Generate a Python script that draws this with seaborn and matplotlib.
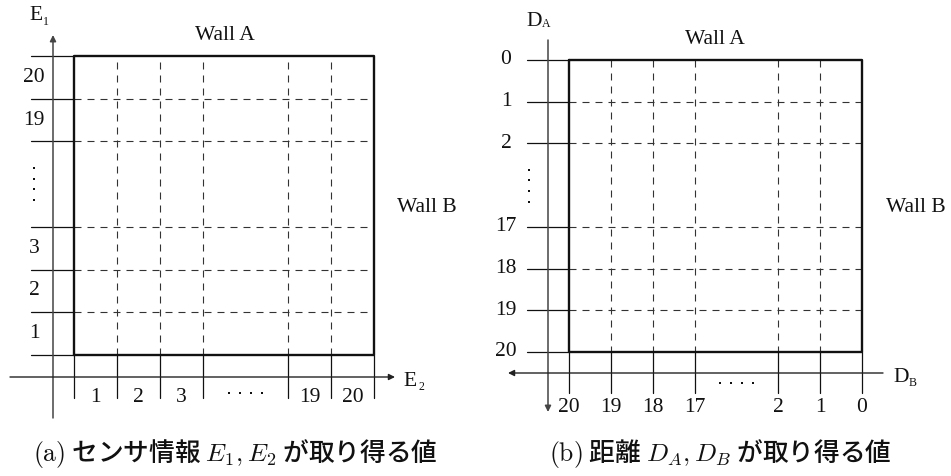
import matplotlib
matplotlib.use("Agg")
import matplotlib.pyplot as plt
import numpy as np
import seaborn as sns

# ---- values shown on the two diagrams ----
E1_VALUES = ["1", "2", "3", "19", "20"]          # sensor E1, bottom to top
E2_VALUES = ["1", "2", "3", "19", "20"]          # sensor E2, left to right
DA_VALUES = ["0", "1", "2", "17", "18", "19", "20"]   # distance to wall A, top to bottom
DB_VALUES = ["20", "19", "18", "17", "2", "1", "0"]   # distance to wall B, left to right

# cell boundaries (in cell units); the gap between 3 and 5 stands for the elided cells
BOUNDS = [0, 1, 2, 3, 5, 6, 7]
N_CELLS = 7

sns.set_theme(style="white")
plt.rcParams["font.family"] = ["Liberation Serif", "DejaVu Serif"]
plt.rcParams["mathtext.fontset"] = "cm"

fig = plt.figure(figsize=(9.51, 4.76), dpi=100)
ax = fig.add_axes([0, 0, 1, 1])
ax.set_xlim(0, 951)
ax.set_ylim(476, 0)
ax.axis("off")

INK = "#111111"
GRID = "#333333"
LBL = 15.5
SUB = 8.5
DASH = (0, (6.3, 5.4))
CAPTION_FONT = ["Noto Sans CJK JP", "DejaVu Sans"]


def arrow(x0, y0, x1, y1, color="#222222", lw=1.0):
    ax.annotate("", xy=(x1, y1), xytext=(x0, y0),
                arrowprops=dict(arrowstyle="-|>", lw=lw, color=color,
                                mutation_scale=9, shrinkA=0, shrinkB=0))


def dots(xs, ys):
    ax.scatter(xs, ys, s=4, color=INK, marker="s", linewidths=0, zorder=3)


def sublabel(x, y, main, sub, dx, dy):
    ax.text(x, y, main, fontsize=LBL, ha="center", va="center", color=INK)
    ax.text(x + dx, y + dy, sub, fontsize=SUB, ha="center", va="center", color=INK)


def grid_box(X, Y, col_bounds, row_bounds):
    """Outer wall rectangle and dashed cell grid for one panel."""
    bx = [X(0), X(N_CELLS), X(N_CELLS), X(0), X(0)]
    by = [Y(0), Y(0), Y(N_CELLS), Y(N_CELLS), Y(0)]
    sns.lineplot(x=bx, y=by, sort=False, estimator=None, ax=ax,
                 color=INK, lw=1.7, zorder=4)
    for b in col_bounds[1:-1]:
        ax.plot([X(b), X(b)], [Y(0), Y(N_CELLS)], color=GRID, lw=0.8, ls=DASH)
    for b in row_bounds[1:-1]:
        ax.plot([X(0), X(N_CELLS)], [Y(b), Y(b)], color=GRID, lw=0.8, ls=DASH)


# ================= (a) sensor values E1, E2 =================
LX0, LY_BOT = 74.0, 355.0
LCW, LCH = 300.0 / N_CELLS, 299.0 / N_CELLS
lx = lambda u: LX0 + u * LCW          # E2 direction
ly = lambda v: LY_BOT - v * LCH       # E1 direction (upwards)

grid_box(lx, ly, BOUNDS, BOUNDS)
for b in BOUNDS:
    ax.plot([31, lx(0)], [ly(b), ly(b)], color=INK, lw=0.9)
    ax.plot([lx(b), lx(b)], [ly(0), 398], color=INK, lw=0.9)

mids = [(a + b) / 2 for a, b in zip(BOUNDS[:-1], BOUNDS[1:]) if b - a == 1]
for m, lab in zip(mids, E1_VALUES):
    ax.text(34, ly(m), lab, fontsize=LBL, ha="center", va="center", color=INK)
for m, lab in zip(mids, E2_VALUES):
    ax.text(lx(m), 397, lab, fontsize=LBL, ha="center", va="center", color=INK)

gap_mid = 4
dots([34] * 4, ly(gap_mid) + np.array([-16, -5.3, 5.3, 16]))
dots(lx(gap_mid) + np.array([-16.5, -5.5, 5.5, 16.5]), [393] * 4)

arrow(53, 418, 53, 35, color="#444444", lw=1.1)
arrow(10, 377, 395, 377)

ax.text(225, 35, "Wall A", fontsize=LBL, ha="center", va="center", color=INK)
ax.text(427, 207, "Wall B", fontsize=LBL, ha="center", va="center", color=INK)
sublabel(36, 16, "E", "1", 10, 6)
sublabel(410, 381, "E", "2", 11, 6)

ax.text(235, 453, r"$\mathrm{(a)}$ センサ情報 $E_1, E_2$ が取り得る値",
        fontsize=18.5, ha="center", va="center", color=INK,
        family=CAPTION_FONT, fontweight="medium")

# ================= (b) distances DA, DB =================
RX0, RY0 = 569.0, 60.0
RCW, RCH = 293.0 / N_CELLS, 292.0 / N_CELLS
rx = lambda u: RX0 + u * RCW
ry = lambda v: RY0 + v * RCH

row_bounds = [N_CELLS - b for b in BOUNDS[::-1]]   # boundaries counted from the top
grid_box(rx, ry, BOUNDS, row_bounds)
for b in row_bounds:
    ax.plot([527, rx(0)], [ry(b), ry(b)], color=INK, lw=0.9)
for b in BOUNDS:
    ax.plot([rx(b), rx(b)], [ry(N_CELLS), 393], color=INK, lw=0.9)

for b, lab in zip(row_bounds, DA_VALUES):
    ax.text(506, ry(b), lab, fontsize=LBL, ha="center", va="center", color=INK)
for b, lab in zip(BOUNDS, DB_VALUES):
    ax.text(rx(b), 408, lab, fontsize=LBL, ha="center", va="center", color=INK)

dots([529] * 4, ry(3) + np.array([-15.5, -5, 5.5, 16.5]))
dots(rx(gap_mid) + np.array([-16.5, -5.5, 5.5, 16.5]), [383] * 4)

arrow(548, 40, 548, 412, color="#444444", lw=1.1)
arrow(883, 373, 508, 373)

ax.text(715, 40, "Wall A", fontsize=LBL, ha="center", va="center", color=INK)
ax.text(916, 207, "Wall B", fontsize=LBL, ha="center", va="center", color=INK)
sublabel(534, 21, "D", "A", 12, 3)
sublabel(901, 378, "D", "B", 12, 5)

ax.text(720, 453, r"$\mathrm{(b)}$ 距離 $D_A, D_B$ が取り得る値",
        fontsize=18.5, ha="center", va="center", color=INK,
        family=CAPTION_FONT, fontweight="medium")

fig.savefig("out.png", dpi=100)
